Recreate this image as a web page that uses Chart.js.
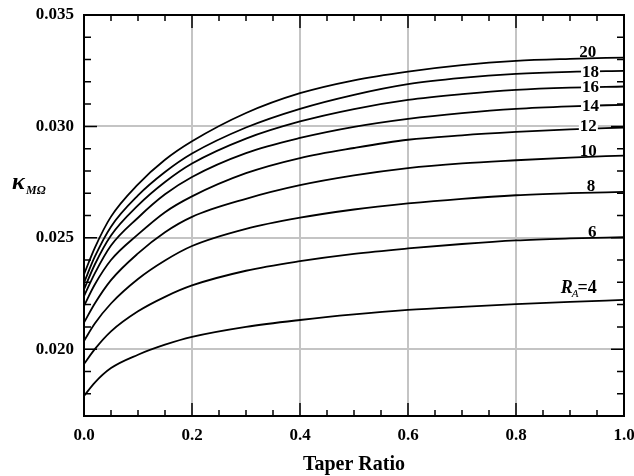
<!DOCTYPE html>
<html>
<head>
<meta charset="utf-8">
<script src="https://cdn.jsdelivr.net/npm/chart.js@4/dist/chart.umd.min.js"></script>
<style>
  html, body { margin: 0; padding: 0; background: #fff; }
  #wrap { width: 634px; height: 476px; }
</style>
</head>
<body>
<div id="wrap"><canvas id="chart" width="634" height="476"></canvas></div>
<script>
// taper ratio samples
var taper = [0, 0.02, 0.05, 0.1, 0.15, 0.2, 0.3, 0.4, 0.5, 0.6, 0.7, 0.8, 0.9, 1.0];
// kappa values, one array per aspect ratio R_A
var ra4  = [0.01790, 0.01850, 0.01915, 0.01975, 0.02020, 0.02055, 0.02100, 0.02131, 0.02156, 0.02176, 0.02190, 0.02202, 0.02212, 0.02221];
var ra6  = [0.01933, 0.02000, 0.02080, 0.02170, 0.02235, 0.02286, 0.02352, 0.02395, 0.02428, 0.02452, 0.02472, 0.02488, 0.02497, 0.02503];
var ra8  = [0.02037, 0.02115, 0.02205, 0.02315, 0.02398, 0.02463, 0.02540, 0.02590, 0.02627, 0.02654, 0.02675, 0.02691, 0.02700, 0.02706];
var ra10 = [0.02119, 0.02205, 0.02310, 0.02430, 0.02525, 0.02594, 0.02675, 0.02736, 0.02780, 0.02813, 0.02834, 0.02848, 0.02860, 0.02869];
var ra12 = [0.02194, 0.02290, 0.02400, 0.02515, 0.02615, 0.02686, 0.02790, 0.02858, 0.02903, 0.02940, 0.02960, 0.02975, 0.02987, 0.02995];
var ra14 = [0.02238, 0.02340, 0.02465, 0.02590, 0.02695, 0.02773, 0.02880, 0.02948, 0.02998, 0.03034, 0.03060, 0.03079, 0.03090, 0.03097];
var ra16 = [0.02268, 0.02380, 0.02510, 0.02645, 0.02750, 0.02833, 0.02945, 0.03022, 0.03078, 0.03119, 0.03145, 0.03164, 0.03174, 0.03179];
var ra18 = [0.02298, 0.02415, 0.02550, 0.02690, 0.02795, 0.02878, 0.02995, 0.03079, 0.03142, 0.03190, 0.03218, 0.03236, 0.03245, 0.03249];
var ra20 = [0.02336, 0.02455, 0.02595, 0.02740, 0.02850, 0.02933, 0.03060, 0.03149, 0.03207, 0.03246, 0.03275, 0.03294, 0.03303, 0.03309];

var series = [ra4, ra6, ra8, ra10, ra12, ra14, ra16, ra18, ra20];

var xTicks = [0, 0.2, 0.4, 0.6, 0.8, 1.0];
var yTicks = [0.020, 0.025, 0.030, 0.035];

// curve labels: text, x value, y value, drawn on the line (white box) or not
var curveLabels = [
  ['20', 0.933, 0.03334, false],
  ['18', 0.938, 0.03245, true],
  ['16', 0.938, 0.03178, true],
  ['14', 0.938, 0.03093, true],
  ['12', 0.934, 0.03003, true],
  ['10', 0.934, 0.02891, false],
  ['8',  0.939, 0.02734, false],
  ['6',  0.941, 0.02528, false]
];

var serif = '"Liberation Serif", "Times New Roman", serif';

var datasets = series.map(function (arr) {
  return {
    data: taper.map(function (t, i) { return { x: t, y: arr[i] }; }),
    borderColor: '#000',
    borderWidth: 1.8,
    pointRadius: 0,
    showLine: true,
    fill: false,
    cubicInterpolationMode: 'monotone'
  };
});

var framePlugin = {
  id: 'frame',
  afterDatasetsDraw: function (chart) {
    var ctx = chart.ctx;
    var xs = chart.scales.x, ys = chart.scales.y;
    var a = chart.chartArea;
    ctx.save();

    // curve labels
    ctx.font = 'bold 17px ' + serif;
    ctx.textAlign = 'center';
    ctx.textBaseline = 'middle';
    curveLabels.forEach(function (l) {
      var px = xs.getPixelForValue(l[1]);
      var py = ys.getPixelForValue(l[2]);
      if (l[3]) {
        var w = ctx.measureText(l[0]).width;
        ctx.fillStyle = '#fff';
        ctx.fillRect(px - w / 2 - 1, py - 6, w + 2, 12);
      }
      ctx.fillStyle = '#000';
      ctx.fillText(l[0], px, py + 1);
    });

    // R_A=4 label
    var rx = xs.getPixelForValue(0.883);
    var ry = ys.getPixelForValue(0.02272);
    ctx.textAlign = 'left';
    ctx.font = 'bold italic 18px ' + serif;
    ctx.fillText('R', rx, ry);
    var w1 = ctx.measureText('R').width;
    ctx.font = 'italic 11px ' + serif;
    ctx.fillText('A', rx + w1 - 1, ry + 6);
    var w2 = ctx.measureText('A').width;
    ctx.font = 'bold 18px ' + serif;
    ctx.fillText('=4', rx + w1 + w2 - 2, ry);

    // ticks on all sides, pointing in
    ctx.strokeStyle = '#000';
    ctx.lineWidth = 1.5;
    ctx.beginPath();
    for (var i = 0; i <= 20; i++) {
      var xv = i * 0.05;
      var x = xs.getPixelForValue(xv);
      var len = (i % 4 === 0) ? 13 : 6;
      ctx.moveTo(x, a.bottom); ctx.lineTo(x, a.bottom - len);
      ctx.moveTo(x, a.top); ctx.lineTo(x, a.top + len);
    }
    for (var j = 17; j <= 35; j++) {
      var y = ys.getPixelForValue(j / 1000);
      var ylen = (j % 5 === 0) ? 13 : 7;
      ctx.moveTo(a.left, y); ctx.lineTo(a.left + ylen, y);
      ctx.moveTo(a.right, y); ctx.lineTo(a.right - ylen, y);
    }
    ctx.stroke();

    // frame
    ctx.lineWidth = 2;
    ctx.strokeRect(a.left, a.top, a.right - a.left, a.bottom - a.top);

    // tick labels
    ctx.fillStyle = '#000';
    ctx.font = 'bold 17px ' + serif;
    ctx.textAlign = 'center';
    ctx.textBaseline = 'middle';
    xTicks.forEach(function (v) {
      ctx.fillText(v.toFixed(1), xs.getPixelForValue(v), a.bottom + 20);
    });
    ctx.textAlign = 'right';
    yTicks.forEach(function (v) {
      ctx.fillText(v.toFixed(3), a.left - 10, ys.getPixelForValue(v));
    });

    // axis titles
    ctx.textAlign = 'center';
    ctx.font = 'bold 20px ' + serif;
    ctx.fillText('Taper Ratio', (a.left + a.right) / 2, a.bottom + 49);

    ctx.textAlign = 'left';
    ctx.font = 'bold italic 24px ' + serif;
    ctx.fillText('\u03BA', 12, 183);
    ctx.font = 'bold italic 12px ' + serif;
    ctx.fillText('M\u03A9', 26, 191);

    ctx.restore();
  }
};

var ctx = document.getElementById('chart').getContext('2d');
var myChart = new Chart(ctx, {
  type: 'scatter',
  data: { datasets: datasets },
  plugins: [framePlugin],
  options: {
    responsive: false,
    animation: false,
    events: [],
    layout: { padding: { left: 84, right: 10, top: 15, bottom: 60 } },
    plugins: { legend: { display: false }, tooltip: { enabled: false } },
    scales: {
      x: {
        type: 'linear',
        min: 0,
        max: 1,
        afterBuildTicks: function (s) { s.ticks = xTicks.map(function (v) { return { value: v }; }); },
        ticks: { display: false },
        border: { display: false },
        grid: {
          drawTicks: false,
          lineWidth: 2,
          color: function (c) {
            var v = c.tick ? c.tick.value : 0;
            return (v > 0.001 && v < 0.999) ? '#c4c4c4' : 'rgba(0,0,0,0)';
          }
        }
      },
      y: {
        type: 'linear',
        min: 0.017,
        max: 0.035,
        afterBuildTicks: function (s) { s.ticks = yTicks.map(function (v) { return { value: v }; }); },
        ticks: { display: false },
        border: { display: false },
        grid: {
          drawTicks: false,
          lineWidth: 2,
          color: function (c) {
            var v = c.tick ? c.tick.value : 0;
            return (v < 0.0349) ? '#c4c4c4' : 'rgba(0,0,0,0)';
          }
        }
      }
    }
  }
});
</script>
</body>
</html>
